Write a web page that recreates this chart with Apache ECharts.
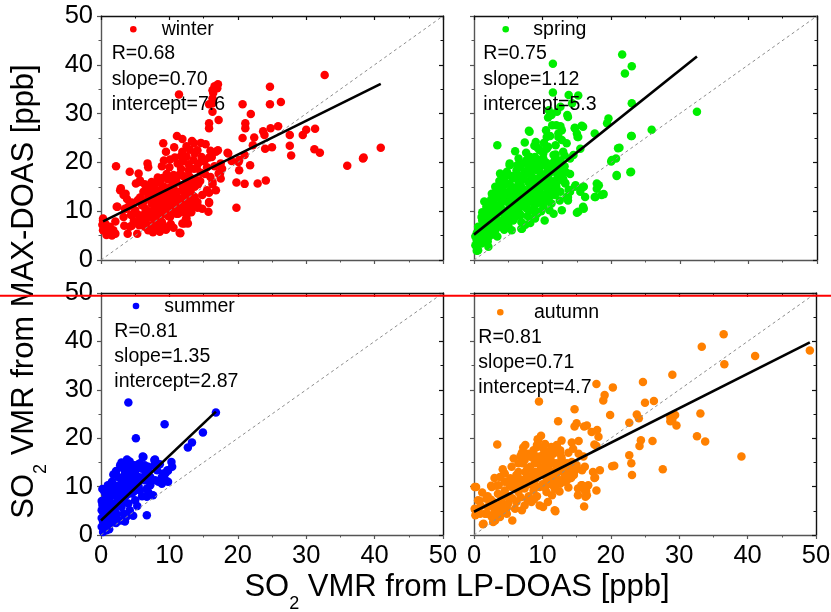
<!DOCTYPE html>
<html><head><meta charset="utf-8">
<script src="https://cdn.jsdelivr.net/npm/echarts@6/dist/echarts.min.js"></script>
<style>html,body{margin:0;padding:0;background:#fff}#c{width:831px;height:612px}</style>
</head><body><div id="c"></div>
<script>
// ---------------- data ----------------
const axisTickValues = [0, 10, 20, 30, 40, 50];
const seasons = ['winter', 'spring', 'summer', 'autumn'];
const statR = ['0.68', '0.75', '0.81', '0.81'];
const statSlope = ['0.70', '1.12', '1.35', '0.71'];
const statIntercept = ['7.6', '5.3', '2.87', '4.7'];

const winter = [[32.7,37.9],[24.7,35.5],[24.7,31.9],[26.3,32.4],[20.7,31.9],[21.9,29.9],[21.1,28.0],[21.1,27.0],[25.9,27.4],[24.8,27.0],[23.7,26.4],[23.9,25.6],[22.4,25.1],[20.7,25.0],[27.6,25.6],[27.6,23.4],[29.5,25.6],[30.0,26.7],[31.3,26.9],[25.0,23.1],[24.0,22.8],[22.2,23.5],[31.2,22.7],[32.0,22.0],[27.8,21.4],[40.9,23.0],[38.3,20.8],[38.4,21.0],[36.0,19.3],[21.0,21.5],[20.1,20.1],[21.8,19.4],[20.2,18.4],[19.8,15.9],[21.0,15.6],[22.9,15.7],[24.1,16.3],[19.8,10.7],[18.5,22.0],
[17.1,36.0],[17.0,35.2],[16.6,35.6],[16.3,34.8],[16.3,33.1],[16.3,32.1],[16.3,30.4],[15.8,31.9],[15.8,28.0],[15.8,27.0],[17.2,28.7],[11.4,33.9],[16.4,34.2],
[11.1,25.4],[11.9,24.8],[13.3,24.4],[13.6,23.9],[12.5,23.3],[14.6,24.0],[15.3,23.7],[10.7,23.1],[11.9,22.2],[14.1,22.5],[13.7,21.8],[14.7,21.1],[15.2,20.5],[16.0,22.4],[17.1,22.5],[16.8,22.2],[19.1,20.3],[9.5,22.2],[9.1,23.9],[10.1,20.6],[10.8,21.0],[11.7,21.3],[12.0,20.3],[12.8,19.6],[13.5,20.5],[14.2,19.8],[14.8,20.3],[15.8,21.0],[16.2,21.1],[17.5,19.8],[17.7,18.7],[17.4,17.7],[6.8,19.8],[6.9,19.0],[8.9,19.2],[2.2,19.2],[4.2,18.1],[5.5,17.7],[8.3,16.9],[9.6,17.6],[10.6,17.4],[11.4,17.4],[11.7,18.7],[12.8,18.4],[13.6,18.7],[14.6,17.9],[15.2,17.6],[16.0,17.0],[16.3,16.0],[17.2,17.7],[17.5,16.7],[17.6,18.7],[20.2,20.5],[18.6,21.8],[5.6,16.0],[6.4,15.5],[6.9,15.0],[7.6,14.7],[2.9,14.7],[3.6,13.6],[2.8,14.3],[3.3,13.3],[5.1,15.7],[5.7,16.3],[7.4,16.0],[8.6,16.0],[9.1,15.1],[9.6,14.2],[10.6,15.0],[11.1,14.0],[11.9,15.3],[12.3,14.3],[13.0,14.4],[13.7,15.0],[14.2,15.5],[12.2,12.9],[11.5,11.9],[12.0,10.9],[12.8,12.3],[13.7,12.9],[14.1,11.9],[15.8,11.7],[15.5,14.3],[16.3,15.5],[16.8,14.3],[15.8,13.8],[15.8,11.9],[5.7,12.8],[5.4,12.3],[6.2,11.9],[6.9,12.9],[7.4,11.6],[8.1,12.3],[8.9,12.3],[9.6,11.6],[10.1,12.6],[10.8,12.3],[11.3,10.9],[2.4,10.9],[3.5,10.5],[4.0,10.9],[2.3,10.9],[3.7,10.5],[2.1,7.9],[3.3,8.8],[4.4,9.2],[5.5,9.2],[6.4,9.5],[5.6,7.1],[6.4,8.1],[7.2,8.8],[7.9,8.1],[8.6,8.8],[9.4,9.5],[10.1,8.8],[8.6,10.2],[9.6,10.5],[10.3,9.9],[6.4,6.8],[7.4,7.1],[8.1,6.4],[9.1,7.1],[7.6,5.7],[6.9,6.1],[3.9,5.4],[5.3,5.4],[4.2,6.8],[3.4,7.0],[11.6,5.5],[12.2,7.5],[12.4,8.3],[12.5,9.2],[10.8,10.1],[11.3,9.5],[12.0,9.9],[14.2,10.9],[14.8,10.5],[15.7,9.9],[14.1,10.7],[8.4,7.5],[8.9,7.8],[12.7,7.5],[12.5,8.5],[11.5,5.6],[11.9,7.5],[11.0,9.5],
[0.3,8.1],[0.6,6.8],[0.3,6.1],[1.1,5.8],[1.3,6.8],[1.8,6.1],[2.1,5.4],[0.8,5.1],[0.3,8.5],[0.6,7.5],[0.4,6.1],[1.1,6.4],[1.3,5.7],[2.0,5.5],[1.0,5.4],[0.2,7.2],[0.8,7.0],[1.6,5.0],
[7.0,10.0],[7.8,10.6],[8.2,9.5],[9.0,11.0],[10.0,11.3],[10.5,13.0],[9.3,13.5],[8.5,13.0],[7.7,13.3],[8.0,14.5],[9.0,14.7],[10.3,14.0],[11.0,13.2],[11.6,12.5],[10.7,11.0],[9.8,9.0],[8.8,9.8],[7.5,9.2],[6.5,10.5],[6.0,9.0],[4.8,8.0],[5.0,10.2],[4.5,11.8],[3.8,12.5],[9.8,16.5],[10.5,16.0],[12.5,16.5],[13.0,17.0],[13.8,16.6],[14.5,16.2],[12.7,15.8],[14.8,13.3],[13.2,13.6],[12.4,11.3],[13.5,11.0],[10.2,7.4],[9.5,6.2],[8.6,5.8],[10.6,6.6],[13.2,9.8],[12.8,10.4],
[4.5,7.0],[5.8,8.2],[6.8,7.2],[7.0,9.4],[8.0,11.2],[9.2,12.8],[10.0,14.8],[9.4,10.4],[10.2,10.4],[11.8,14.2],[12.5,14.0],[13.4,16.0],[11.0,16.2],[9.0,16.8],[7.8,15.4],[6.2,14.0],[7.2,13.8],[8.4,14.0],[10.0,19.0],[9.2,20.4],[11.2,19.8],[12.5,21.2],[13.0,22.6],[15.5,19.0],[16.6,19.2],[14.0,18.8],[12.0,17.2],[13.0,12.0],[10.2,12.0],[8.4,11.0],[6.0,11.2],[7.2,12.4]];

const spring = [[21.6,42.1],[23.0,39.7],[22.0,38.2],[11.5,40.2],[32.5,30.4],[25.9,26.7],[23.0,32.1],[23.0,25.4],[22.8,18.0],[21.2,23.0],[20.7,20.8],[20.0,20.2],[20.8,17.2],[17.6,25.9],[15.7,27.5],[14.7,27.1],[15.0,25.9],[15.1,25.2],[15.5,22.8],[14.5,21.5],[19.6,29.0],[19.4,28.0],[11.5,34.3],[13.8,33.8],[15.2,33.7],[10.9,30.7],[12.1,30.4],[13.6,29.7],[12.6,31.4],[14.3,32.1],[11.4,27.6],[12.6,27.4],[10.5,26.6],[11.1,25.4],[12.3,25.9],[12.8,24.6],[13.5,23.9],[8.1,26.3],[3.4,23.5],[7.4,24.1],[8.8,23.4],[9.4,22.8],[10.6,22.8],[10.1,21.8],[11.9,21.6],[11.8,20.5],[12.1,20.0],[11.6,19.1],[5.2,19.8],[3.8,17.7],[4.8,18.1],[6.3,19.4],[7.0,19.8],[7.7,20.5],[8.2,21.1],[8.7,20.1],[9.7,20.5],[10.2,19.4],[9.2,18.4],[14.8,15.3],[16.0,15.0],[17.7,12.9],[18.9,13.5],[18.2,15.3],[17.9,14.6],[15.0,9.7],[16.0,10.5],[13.3,15.8],[12.1,16.0],[14.0,14.0],[13.5,12.9],[15.5,14.0],[11.1,15.0],[10.6,13.6],[9.7,12.2],[8.7,11.6],[9.2,9.5],[8.2,8.5],[7.0,6.4],[5.5,6.1],[6.3,15.0],[5.3,13.6],[4.3,12.6],[2.9,11.6],[1.9,9.5],[1.2,8.1],[0.7,5.4],[0.2,3.0],[0.5,2.0],
[8.0,26.5],[10.8,29.2],[11.3,29.7],[12.0,27.6],[12.8,26.6],[12.3,25.2],[13.7,29.3],[14.7,27.0],[15.9,27.3],[15.2,25.2],[10.6,25.2],[9.1,23.2],[9.6,22.5],[10.8,23.2],[11.9,23.5],[6.5,20.8],[7.7,20.5],[8.9,21.1],[10.1,20.8],[11.6,21.5],[5.2,19.4],[6.2,18.4],[7.4,18.1],[8.6,18.7],[9.6,18.1],[10.8,18.7],[11.8,18.1],[4.8,17.4],[3.1,15.0],[4.0,15.0],[5.2,15.7],[6.7,16.4],[7.9,16.0],[9.1,15.7],[10.3,16.4],[2.6,13.6],[3.5,12.9],[4.8,13.6],[6.0,14.0],[7.2,14.3],[8.4,13.6],[9.6,14.0],[10.8,14.6],[11.8,13.3],[1.8,10.9],[3.1,11.2],[4.0,10.5],[5.2,10.9],[6.5,11.6],[7.7,10.5],[8.9,11.2],[10.1,10.9],[11.3,11.6],[12.5,12.2],[13.7,12.9],[1.1,8.8],[2.1,8.5],[3.3,9.2],[4.5,8.8],[5.7,8.1],[6.9,7.8],[8.9,8.5],[10.3,8.1],[11.6,9.5],[12.8,10.2],[0.6,6.8],[1.6,6.1],[2.8,6.4],[3.8,6.8],[5.0,7.1],[6.9,6.4],[0.4,4.0],[1.1,3.4],[2.1,2.7],[0.6,2.0],[0.4,1.9],[10.8,17.0],[12.0,16.4],[13.3,15.7],[14.7,15.0],[15.9,15.0],[17.9,15.7],[18.6,13.3],[17.6,12.9],[16.2,12.9],[15.2,9.9],[15.9,10.9],[13.7,12.2],[21.0,22.9],[20.1,20.5],[20.8,17.4],[22.9,25.4],[22.9,18.1],
[1.5,7.5],[2.5,7.3],[3.5,7.8],[4.5,7.6],[5.8,9.5],[6.8,9.2],[7.8,9.0],[2.3,10.0],[3.3,10.3],[4.8,9.8],[6.2,10.2],[7.2,12.0],[8.0,12.6],[9.0,13.0],[10.0,12.5],[5.8,12.5],[4.2,14.2],[5.6,14.8],[6.8,15.2],[8.2,15.1],[9.5,16.8],[8.4,17.2],[7.0,17.3],[5.8,16.8],[6.8,19.0],[8.0,19.2],[9.4,19.6],[10.5,20.0],[11.0,17.8],[12.5,18.8],[12.8,17.5],[13.2,19.2],[14.0,17.6],[11.5,14.8],[12.6,14.0],[13.8,14.4],[9.8,10.0],[11.0,10.2],[7.5,7.2],[8.2,7.6],[9.0,10.0],[2.2,4.8],[3.0,5.2],[1.0,4.5],[5.5,13.0],[7.6,22.0],[9.0,24.2],[10.2,24.0],[6.0,22.3],[13.0,22.2],[14.0,20.8],[13.2,21.4],[3.7,16.2],[2.5,12.4],[1.5,12.0],[4.4,16.5],[0.4,5.5],[0.2,4.8],[1.8,5.6],[2.7,9.2],[6.3,13.5],[8.8,14.2],[10.0,15.2],[11.2,16.2],
[1.3,4.2],[1.4,6.8],[1.2,9.8],[2.0,3.8],[2.4,5.8],[2.0,7.0],[2.9,7.6],[2.6,11.0],[3.4,4.8],[3.1,6.0],[3.9,8.0],[3.6,9.8],[3.9,11.6],[3.3,14.0],[4.4,6.2],[4.6,10.0],[4.2,12.0],[4.9,12.4],[4.5,15.4],[5.1,8.6],[5.4,9.6],[5.0,11.8],[5.6,12.0],[5.4,17.2],[6.0,8.8],[6.2,11.0],[6.0,12.8],[6.5,15.8],[6.1,17.5],[6.6,9.6],[7.0,11.0],[7.3,13.2],[7.0,14.8],[7.3,16.6],[7.8,11.8],[7.6,14.0],[8.0,17.8],[8.2,10.2],[8.5,12.2],[8.3,15.8],[8.8,16.6],[8.6,19.4],[9.0,9.2],[9.3,11.8],[9.2,14.8],[9.8,17.4],[9.9,13.4],[10.2,11.6],[10.4,15.0],[10.6,17.8],[10.9,12.6],[11.2,15.6],[11.4,19.8],[11.6,13.8],[12.0,15.0],[12.2,17.2],[12.6,20.4],[13.0,16.6],[13.4,18.0],[4.0,13.4],[3.0,12.6],[2.0,11.6],[6.8,13.6],[5.2,14.2]];

const summer = [[4.0,27.4],[9.3,22.9],[5.1,20.0],[16.8,25.3],[14.9,21.2],[13.3,19.1],[12.7,18.1],[10.3,15.1],[9.8,13.3],[9.1,12.7],[8.6,11.3],[8.4,11.0],[7.8,15.5],[6.4,14.4],[6.1,16.2],[5.7,14.8],[7.2,11.0],[7.6,8.2],[6.7,7.9],[6.7,4.1],[3.7,3.7],[2.8,14.4],[3.5,14.1],[4.2,13.4],[4.7,12.7],[5.2,12.0],
[10.4,14.1],[9.7,13.4],[9.4,12.7],[8.9,12.0],[7.9,15.6],[7.8,14.4],[6.9,14.1],[6.2,16.1],[5.5,14.6],[6.0,13.7],[3.3,13.7],[4.0,14.1],[4.5,13.4],[5.0,12.7],[3.5,12.7],[2.5,12.0],[3.0,11.3],[3.7,10.6],[4.5,11.7],[5.5,12.0],[6.4,11.3],[7.2,12.0],[7.9,11.3],[6.9,8.9],[7.2,10.3],[6.7,9.6],[2.0,9.2],[2.5,8.6],[3.3,9.2],[4.0,9.6],[5.0,9.9],[5.7,9.2],[4.5,8.6],[3.5,7.9],[2.5,7.2],[1.8,6.5],[1.1,5.8],[0.6,5.1],[1.3,4.4],[2.0,5.1],[3.0,5.8],[4.0,6.5],[5.0,7.2],[4.2,5.1],[3.3,4.4],[0.6,7.2],[0.3,3.7],[0.6,2.3],[0.1,1.7],[0.8,1.0],[0.3,0.6],[0.1,5.1],[8.9,10.6],[9.4,11.3],[9.8,11.0],
[0.3,2.8],[0.5,4.2],[0.2,6.2],[0.9,3.2],[1.5,2.5],[1.2,7.5],[1.7,8.2],[2.2,10.2],[1.4,9.5],[2.8,10.0],[3.6,11.5],[4.3,10.5],[5.2,10.8],[5.8,11.6],[4.8,9.0],[3.8,8.3],[2.6,6.3],[3.2,6.8],[1.9,3.6],[2.3,4.3],[2.9,3.0],[1.0,2.0],[0.5,9.0],[0.4,6.8],[0.1,3.5],[1.6,11.0],[1.0,10.3],[0.2,9.5],[3.0,15.0],[4.2,15.2],[4.9,14.4],[3.8,15.6],[5.5,10.0],[6.0,8.0],[5.3,6.0],[4.7,4.0],[3.5,2.8],[1.2,6.1],[0.7,8.3],[0.1,7.0],[0.7,7.2],
[1.8,12.5],[2.2,13.2],[3.2,10.4],[4.0,12.2],[5.0,13.5],[6.2,12.0],[6.6,13.0],[7.0,13.2],[8.2,13.4],[8.6,14.6],[2.8,8.0],[1.5,5.0],[2.2,2.5],[0.6,1.2],[1.2,1.2]];

const autumn = [[36.5,41.5],[33.3,38.9],[49.1,38.1],[41.1,37.0],[36.6,35.3],[29.0,33.1],[24.7,31.6],[20.3,30.5],[17.9,31.2],[9.5,27.6],[19.1,28.9],[18.9,27.8],[25.0,27.3],[26.3,27.7],[14.7,26.0],[19.9,24.8],[23.8,24.9],[24.1,24.1],[22.7,23.2],[28.7,24.4],[29.0,23.8],[29.4,24.8],[29.6,22.6],[28.7,23.5],[33.1,25.1],[12.3,23.5],[14.7,22.4],[15.0,23.1],[16.1,22.4],[16.5,22.6],[15.3,19.4],[14.3,19.1],[17.2,21.3],[18.0,21.7],[18.2,20.3],[17.6,18.7],[17.9,18.4],[24.4,19.6],[24.2,18.4],[26.1,19.4],[32.6,20.4],[33.8,19.3],[39.1,16.2],[22.7,16.5],[23.0,14.8],[23.1,12.4],[20.2,14.2],[20.5,14.3],[27.6,13.6],[7.5,18.6],[3.4,18.7],[9.3,19.8],[9.2,18.6],[8.0,16.3],[7.1,14.8],[12.1,18.4],[12.6,17.5],[11.6,16.8],[10.7,16.5],[10.2,15.5],[11.1,15.1],[12.4,14.4],[13.6,14.8],[15.3,16.8],[16.0,16.2],[15.0,14.4],[15.8,13.4],[14.1,13.1],[13.6,11.3],[12.6,10.6],[11.9,9.6],[17.6,11.8],[16.7,10.3],[16.4,9.1],[16.3,7.9],[16.1,5.9],[15.8,10.3],[11.9,4.9],[0.3,9.9],[0.8,7.0],[0.2,5.2],[0.2,4.1],[1.3,2.2],[2.5,10.2],[3.3,10.2],[2.5,7.3],[3.8,5.8],[3.1,4.4],[2.6,3.7],[4.1,5.1],[4.8,4.4],[5.6,3.0],[3.1,3.0],[1.9,4.4],
[7.2,18.1],[7.9,16.8],[8.7,17.5],[9.4,19.6],[9.2,18.2],[10.1,17.9],[10.9,17.2],[11.3,18.2],[12.1,18.6],[12.6,16.8],[5.5,14.1],[6.5,14.8],[7.4,15.5],[8.2,14.1],[8.9,14.8],[9.6,15.5],[10.4,14.1],[11.3,14.8],[12.1,13.7],[12.8,15.5],[13.5,14.4],[14.3,15.1],[3.8,12.0],[4.5,12.7],[5.3,11.7],[6.2,12.4],[7.0,11.3],[7.9,12.0],[8.9,11.3],[9.6,12.4],[10.6,11.7],[11.6,12.0],[12.6,11.3],[13.3,12.4],[2.6,9.9],[3.6,10.3],[4.5,9.2],[5.5,9.9],[6.5,8.9],[7.4,9.6],[8.7,9.2],[9.6,9.9],[10.6,8.9],[11.8,9.6],[0.6,7.2],[1.8,7.5],[2.8,6.8],[4.0,7.2],[5.0,6.5],[6.2,6.8],[7.4,6.1],[8.4,6.8],[9.6,6.1],[10.1,5.8],[0.1,9.9],[0.1,5.4],[0.9,4.4],[1.6,4.4],[2.6,4.1],[1.4,2.3],[2.8,2.7],[3.8,3.7],[6.0,5.4],[7.0,5.1],[11.8,5.1],[15.2,9.6],[15.7,10.3],[16.2,9.2],[16.5,8.2],[15.2,8.2],[13.3,11.0],[14.8,13.4],[16.2,14.1],[17.4,13.0],[18.4,13.4],[17.7,11.9],[17.9,9.2],
[5.0,8.0],[6.0,10.5],[7.0,10.0],[8.0,10.5],[9.0,13.0],[10.0,13.0],[11.0,13.5],[12.0,12.5],[7.5,13.0],[6.5,13.0],[5.8,11.0],[4.5,11.0],[3.5,8.5],[2.0,8.0],[1.0,6.0],[8.0,8.0],[9.2,8.0],[10.0,10.5],[11.0,11.0],[12.5,9.0],[13.8,9.8],[14.2,11.8],[8.5,16.0],[10.0,16.5],[11.5,17.6],[6.8,16.3],[9.8,20.5],[12.8,19.5],[13.8,17.0],[14.5,17.8],[4.3,6.0],[3.0,5.3],[1.2,8.8],[2.2,6.0],
[2.0,5.8],[3.5,6.0],[4.8,5.6],[5.6,7.6],[6.8,7.8],[7.8,7.4],[8.8,7.4],[9.0,10.0],[10.4,9.8],[11.4,10.4],[12.0,10.6],[13.0,13.0],[12.0,14.8],[10.8,13.0],[9.8,14.0],[8.6,12.6],[7.6,11.8],[6.6,11.6],[5.2,10.4],[4.4,8.0],[6.2,9.6],[7.8,13.8],[9.2,16.2],[11.2,15.6],[12.8,16.0],[13.2,13.6],[14.0,14.0],[11.4,8.2],[10.8,6.8],[14.6,12.4],[7.0,17.0],[10.4,18.8],[5.8,15.8],[4.2,13.6],[3.0,11.8]];

// fitted regression lines (end points)
const winterFit = [[0.3,7.9],[40.9,36.1]];
const springFit = [[0,5.2],[32.5,41.7]];
const summerFit = [[0,3.0],[16.8,25.5]];
const autumnFit = [[0,4.8],[49.1,39.8]];
// 1:1 reference line
const oneToOne = [[0,0],[50,50]];

// ---------------- styles / layout ----------------
const FONT = '"Liberation Sans", Arial, Helvetica, sans-serif';
const colors = ['#ff0000', '#00ee00', '#0000ff', '#ff8000'];
const seriesData = [winter, spring, summer, autumn];
const fitData = [winterFit, springFit, summerFit, autumnFit];
const grids = [
  {left: 101, top: 16, width: 342, height: 244},
  {left: 474, top: 16, width: 343, height: 244},
  {left: 101, top: 293, width: 342, height: 242},
  {left: 474, top: 293, width: 342, height: 242}
];
// annotation anchors per panel
const anno = [
  {mx: 133.3, my: 29.3, nx: 161.7, ny: 30, tx: 111.7, ty: [54, 79.5, 104.5]},
  {mx: 505.7, my: 29.3, nx: 533.3, ny: 30, tx: 483.3, ty: [54, 79.5, 104.5]},
  {mx: 136, my: 306, nx: 164.3, ny: 306.5, tx: 114.3, ty: [332, 357, 381.5]},
  {mx: 500.3, my: 312.3, nx: 534, ny: 312.5, tx: 478.3, ty: [338, 363, 387.5]}
];

function makeAxis(gridIndex, position, showLabel) {
  const outer = position === 'bottom' || position === 'left';
  const col = outer ? '#555' : '#111';
  return {
    type: 'value', gridIndex, position, min: axisTickValues[0], max: axisTickValues[axisTickValues.length - 1], interval: 10,
    axisLine: {show: true, onZero: false, lineStyle: {color: col, width: 1.4}},
    axisTick: {show: true, inside: !outer, length: 4, lineStyle: {color: col, width: 1.2}},
    minorTick: {show: true, splitNumber: 2, length: 2.5, lineStyle: {color: col, width: 1}},
    splitLine: {show: false}, minorSplitLine: {show: false},
    axisLabel: {show: showLabel, fontSize: 25.5, color: '#000', fontFamily: FONT, margin: 8,
      formatter: v => axisTickValues.indexOf(v) >= 0 ? String(v) : ''}
  };
}

const xAxis = [], yAxis = [], series = [];
grids.forEach((g, i) => {
  xAxis.push(makeAxis(i, 'bottom', i >= 2));
  xAxis.push(makeAxis(i, 'top', false));
  yAxis.push(makeAxis(i, 'left', i % 2 === 0));
  yAxis.push(makeAxis(i, 'right', false));
  series.push({type: 'scatter', xAxisIndex: 2 * i, yAxisIndex: 2 * i, data: seriesData[i],
    symbol: 'circle', symbolSize: 8.5, itemStyle: {color: colors[i], opacity: 1}, z: 2, silent: true});
  series.push({type: 'line', xAxisIndex: 2 * i, yAxisIndex: 2 * i, data: oneToOne, symbol: 'none',
    lineStyle: {color: '#8c8c8c', width: 1, type: [3, 3]}, z: 3, silent: true});
  series.push({type: 'line', xAxisIndex: 2 * i, yAxisIndex: 2 * i, data: fitData[i], symbol: 'none',
    lineStyle: {color: '#000', width: 2.6}, z: 4, silent: true});
});

// text helpers
const mctx = document.createElement('canvas').getContext('2d');
function tw(t, size) { mctx.font = size + 'px ' + FONT; return mctx.measureText(t).width; }

const graphic = [];
anno.forEach((a, i) => {
  graphic.push({type: 'circle', shape: {cx: a.mx, cy: a.my, r: 3.3}, style: {fill: colors[i]}, z: 50});
  graphic.push({type: 'text', x: a.nx, y: a.ny, style: {text: seasons[i], fontSize: 19.5, fontFamily: FONT, fill: '#000', align: 'left', verticalAlign: 'middle'}, z: 50});
  const lines = ['R=' + statR[i], 'slope=' + statSlope[i], 'intercept=' + statIntercept[i]];
  lines.forEach((t, k) => graphic.push({type: 'text', x: a.tx, y: a.ty[k], style: {text: t, fontSize: 19.5, fontFamily: FONT, fill: '#000', align: 'left', verticalAlign: 'middle'}, z: 50}));
});

// x axis title: SO2 VMR from LP-DOAS [ppb]
(function () {
  const big = 31, small = 18;
  const p1 = 'SO', p2 = '2', p3 = ' VMR from LP-DOAS [ppb]';
  const w1 = tw(p1, big), w2 = tw(p2, small), w3 = tw(p3, big);
  let x0 = 457 - (w1 + w2 + w3) / 2;
  const yc = 587, ys = 604;
  graphic.push({type: 'text', x: x0, y: yc, style: {text: p1, fontSize: big, fontFamily: FONT, fill: '#000', align: 'left', verticalAlign: 'middle'}, z: 50});
  graphic.push({type: 'text', x: x0 + w1, y: ys, style: {text: p2, fontSize: small, fontFamily: FONT, fill: '#000', align: 'left', verticalAlign: 'middle'}, z: 50});
  graphic.push({type: 'text', x: x0 + w1 + w2, y: yc, style: {text: p3, fontSize: big, fontFamily: FONT, fill: '#000', align: 'left', verticalAlign: 'middle'}, z: 50});
})();
// y axis title (rotated): SO2 VMR from MAX-DOAS [ppb]
(function () {
  const big = 31, small = 18;
  const p1 = 'SO', p2 = '2', p3 = ' VMR from MAX-DOAS [ppb]';
  const w1 = tw(p1, big), w2 = tw(p2, small), w3 = tw(p3, big);
  const y0 = 291.5 + (w1 + w2 + w3) / 2;
  const xc = 24.5, xs = 41;
  const rot = Math.PI / 2;
  graphic.push({type: 'text', x: xc, y: y0, rotation: rot, style: {text: p1, fontSize: big, fontFamily: FONT, fill: '#000', align: 'left', verticalAlign: 'middle'}, z: 50});
  graphic.push({type: 'text', x: xs, y: y0 - w1, rotation: rot, style: {text: p2, fontSize: small, fontFamily: FONT, fill: '#000', align: 'left', verticalAlign: 'middle'}, z: 50});
  graphic.push({type: 'text', x: xc, y: y0 - w1 - w2, rotation: rot, style: {text: p3, fontSize: big, fontFamily: FONT, fill: '#000', align: 'left', verticalAlign: 'middle'}, z: 50});
})();
// red horizontal line across the figure
graphic.push({type: 'line', shape: {x1: 0, y1: 295.7, x2: 831, y2: 295.7}, style: {stroke: '#ff0000', lineWidth: 2}, z: 100});

const chart = echarts.init(document.getElementById('c'), null, {renderer: 'canvas'});
chart.setOption({
  backgroundColor: '#fff',
  animation: false,
  grid: grids.map(g => Object.assign({containLabel: false, outerBoundsMode: 'none'}, g)),
  xAxis, yAxis, series, graphic
});
</script></body></html>
